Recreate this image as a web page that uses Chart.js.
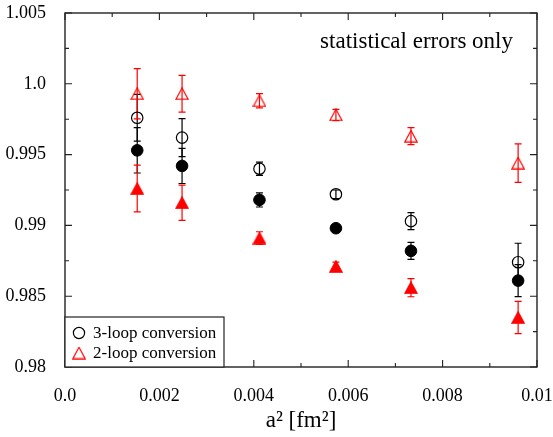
<!DOCTYPE html>
<html><head><meta charset="utf-8">
<script src="https://cdn.jsdelivr.net/npm/chart.js@4.4.0/dist/chart.umd.min.js"></script>
<style>html,body{margin:0;padding:0;background:#fff}#wrap{width:553px;height:437px}</style>
</head><body><div id="wrap"><canvas id="c" width="553" height="437"></canvas></div>
<script>
// ---- data ----
const a2 = [0.00153, 0.00248, 0.00412, 0.00574, 0.00733, 0.0096];
const threeLoopOpen = [0.9976, 0.9962, 0.9940, 0.9922, 0.9903, 0.9874];
const threeLoopOpenErr = [0.00165, 0.00134, 0.00047, 0.0003, 0.0006, 0.00134];
const twoLoopOpen = [0.9993, 0.9993, 0.9988, 0.9978, 0.9963, 0.9944];
const twoLoopOpenErr = [0.00177, 0.0013, 0.0005, 0.0004, 0.0006, 0.00136];
const threeLoopFilled = [0.9953, 0.9942, 0.9918, 0.9898, 0.9882, 0.9861];
const threeLoopFilledErr = [0.0016, 0.00124, 0.0005, 0.0002, 0.0006, 0.00113];
const twoLoopFilled = [0.9926, 0.9916, 0.9891, 0.9871, 0.9856, 0.9835];
const twoLoopFilledErr = [0.00165, 0.00124, 0.00045, 0.0003, 0.00064, 0.00114];
const seriesLabels = ['3-loop conversion', '2-loop conversion'];
const xTickVals = [0, 0.001, 0.002, 0.003, 0.004, 0.005, 0.006, 0.007, 0.008, 0.009, 0.01];
const xTickLabels = ['0.0', '', '0.002', '', '0.004', '', '0.006', '', '0.008', '', '0.01'];
const yTickVals = [0.98, 0.9825, 0.985, 0.9875, 0.99, 0.9925, 0.995, 0.9975, 1.0, 1.0025, 1.005];
const yTickLabels = ['0.98', '', '0.985', '', '0.99', '', '0.995', '', '1.0', '', '1.005'];
const xTitle = 'a\u00B2 [fm\u00B2]';
const noteText = 'statistical errors only';

// ---- helpers ----
const FONT = "'Liberation Serif','Times New Roman',serif";
const RED = '#ff0000';
function pts(ys){ return a2.map((x,i)=>({x:x, y:ys[i]})); }
function triImg(fill){
  const w=14, h=13, lw=1.2;
  const c=document.createElement('canvas'); c.width=w; c.height=h;
  const g=c.getContext('2d');
  const p=lw/2+0.2;
  g.beginPath(); g.moveTo(w/2,p); g.lineTo(w-p,h-p); g.lineTo(p,h-p); g.closePath();
  if(fill){ g.fillStyle=RED; g.fill(); }
  g.strokeStyle=RED; g.lineWidth=lw; g.stroke();
  return c;
}
const openTri = triImg(false), fillTri = triImg(true);
function noPad(s){ s.paddingTop=0; s.paddingBottom=0; s.paddingLeft=0; s.paddingRight=0; }

const plugin = {
  id:'custom',
  beforeDatasetsDraw(chart){
    const ctx=chart.ctx, xs=chart.scales.x, ys=chart.scales.y;
    chart.data.datasets.forEach(ds=>{
      ctx.save(); ctx.strokeStyle=ds.errColor; ctx.lineWidth=1.2;
      ds.data.forEach((p,j)=>{
        const px=xs.getPixelForValue(p.x);
        const y1=ys.getPixelForValue(p.y+ds.errors[j]);
        const y2=ys.getPixelForValue(p.y-ds.errors[j]);
        ctx.beginPath();
        ctx.moveTo(px,y1); ctx.lineTo(px,y2);
        ctx.moveTo(px-3.5,y1); ctx.lineTo(px+3.5,y1);
        ctx.moveTo(px-3.5,y2); ctx.lineTo(px+3.5,y2);
        ctx.stroke();
      });
      ctx.restore();
    });
  },
  afterDraw(chart){
    const ctx=chart.ctx, xs=chart.scales.x, ys=chart.scales.y, ca=chart.chartArea;
    ctx.save();
    ctx.strokeStyle='#222'; ctx.lineWidth=1.4;
    ctx.strokeRect(ca.left, ca.top, ca.right-ca.left, ca.bottom-ca.top);
    ctx.lineWidth=1.1; ctx.beginPath();
    xTickVals.forEach((v,i)=>{
      const px=xs.getPixelForValue(v), L = xTickLabels[i] ? 7 : 4;
      ctx.moveTo(px, ca.bottom); ctx.lineTo(px, ca.bottom-L);
      ctx.moveTo(px, ca.top); ctx.lineTo(px, ca.top+L);
    });
    yTickVals.forEach((v,i)=>{
      const py=ys.getPixelForValue(v), L = yTickLabels[i] ? 7 : 4;
      ctx.moveTo(ca.left, py); ctx.lineTo(ca.left+L, py);
      ctx.moveTo(ca.right, py); ctx.lineTo(ca.right-L, py);
    });
    ctx.stroke();
    // note
    ctx.fillStyle='#000'; ctx.font='23px '+FONT; ctx.textAlign='right'; ctx.textBaseline='alphabetic';
    ctx.fillText(noteText, ca.right-24, ca.top+35);
    // legend
    const lx=ca.left, ly=ca.bottom-50, lw=159, lh=50;
    ctx.fillStyle='#fff'; ctx.fillRect(lx,ly,lw,lh);
    ctx.strokeStyle='#222'; ctx.lineWidth=1.2; ctx.strokeRect(lx,ly,lw,lh);
    ctx.font='17px '+FONT; ctx.textAlign='left'; ctx.textBaseline='middle'; ctx.fillStyle='#000';
    const r1=ly+16, r2=ly+36;
    ctx.beginPath(); ctx.arc(lx+14, r1, 5.6, 0, Math.PI*2); ctx.strokeStyle='#000'; ctx.lineWidth=1.2; ctx.stroke();
    ctx.fillText(chart.data.datasets[0].label, lx+28, r1+1);
    ctx.drawImage(openTri, lx+14-7, r2-6.5);
    ctx.fillText(chart.data.datasets[1].label, lx+28, r2+1);
    ctx.restore();
  }
};

new Chart(document.getElementById('c'), {
  type:'scatter',
  data:{ datasets:[
    { label:seriesLabels[0], data:pts(threeLoopOpen), errors:threeLoopOpenErr, errColor:'#000',
      pointStyle:'circle', pointRadius:5.7, pointBorderWidth:1.2, borderColor:'#000', backgroundColor:'rgba(0,0,0,0)' },
    { label:seriesLabels[1], data:pts(twoLoopOpen), errors:twoLoopOpenErr, errColor:RED,
      pointStyle:openTri, borderColor:RED, backgroundColor:'rgba(0,0,0,0)' },
    { label:seriesLabels[0]+' (filled)', data:pts(threeLoopFilled), errors:threeLoopFilledErr, errColor:'#000',
      pointStyle:'circle', pointRadius:5.8, pointBorderWidth:1, borderColor:'#000', backgroundColor:'#000' },
    { label:seriesLabels[1]+' (filled)', data:pts(twoLoopFilled), errors:twoLoopFilledErr, errColor:RED,
      pointStyle:fillTri, borderColor:RED, backgroundColor:RED }
  ]},
  options:{
    responsive:false, devicePixelRatio:1, animation:false,
    layout:{ padding:{ top:13, right:16, left:0, bottom:0 } },
    plugins:{ legend:{display:false}, tooltip:{enabled:false} },
    scales:{
      x:{ type:'linear', min:0, max:0.01,
        afterBuildTicks(s){ s.ticks = xTickVals.map(v=>({value:v})); },
        afterFit(s){ s.height = 70; noPad(s); },
        grid:{ display:false }, border:{ display:false },
        ticks:{ autoSkip:false, maxRotation:0, padding:10, color:'#000', font:{ family:FONT, size:18 },
          callback:(v,i)=>xTickLabels[i] },
        title:{ display:true, text:xTitle, color:'#000', font:{ family:FONT, size:23 }, padding:{top:0,bottom:2} }
      },
      y:{ type:'linear', min:0.98, max:1.005,
        afterBuildTicks(s){ s.ticks = yTickVals.map(v=>({value:v})); },
        afterFit(s){ s.width = 65; noPad(s); },
        grid:{ display:false }, border:{ display:false },
        ticks:{ autoSkip:false, padding:11, color:'#000', font:{ family:FONT, size:18 },
          callback:(v,i)=>yTickLabels[i] }
      }
    }
  },
  plugins:[plugin]
});
</script></body></html>
